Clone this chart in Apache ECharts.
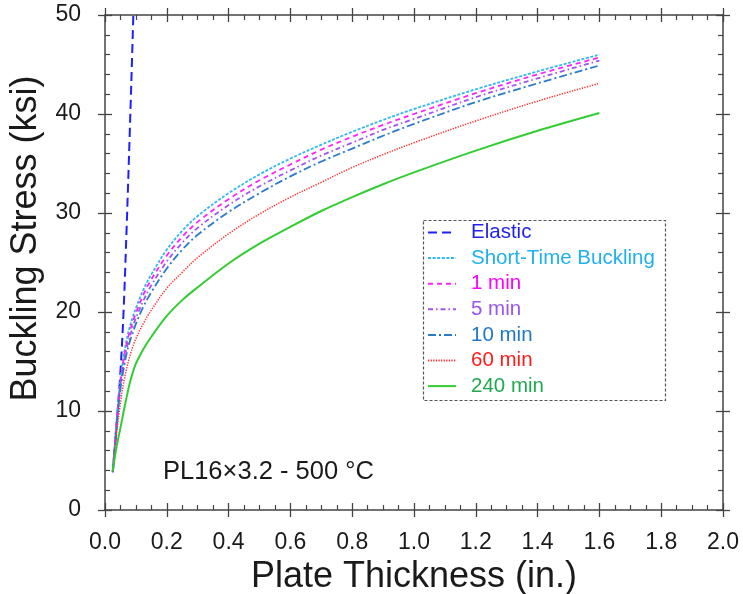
<!DOCTYPE html>
<html>
<head>
<meta charset="utf-8">
<script src="https://cdn.jsdelivr.net/npm/echarts@6/dist/echarts.min.js"></script>
<style>html,body{margin:0;padding:0;background:#fff}#c{width:743px;height:594px}</style>
</head>
<body>
<div id="c"></div>
<script>
// ---- data ----
var thickness = [0.025, 0.03, 0.04, 0.05, 0.06, 0.07, 0.08, 0.09, 0.1, 0.125, 0.15, 0.2, 0.25, 0.3, 0.4, 0.5, 0.6, 0.7, 0.8, 0.9, 1.0, 1.2, 1.4, 1.6];
var elasticX = [0.025, 0.03, 0.04, 0.05, 0.06, 0.07, 0.08, 0.09, 0.1];
var elasticY = [3.8, 5.4, 9.6, 14.0, 20.0, 28.5, 38.0, 48.2, 59.0];
var shortTime = [3.9, 6.0, 10.0, 13.2, 15.5, 17.2, 18.5, 19.5, 20.4, 22.3, 23.8, 26.3, 28.2, 29.7, 32.0, 33.9, 35.5, 36.9, 38.2, 39.4, 40.5, 42.5, 44.3, 46.0];
var min1 = [3.9, 5.9, 9.8, 12.9, 15.1, 16.8, 18.0, 19.0, 19.9, 21.8, 23.3, 25.7, 27.6, 29.1, 31.4, 33.3, 34.9, 36.4, 37.7, 38.9, 40.0, 42.1, 44.0, 45.7];
var min5 = [3.9, 5.8, 9.6, 12.6, 14.7, 16.3, 17.5, 18.5, 19.4, 21.2, 22.7, 25.1, 27.0, 28.5, 30.8, 32.7, 34.3, 35.8, 37.1, 38.4, 39.5, 41.7, 43.6, 45.4];
var min10 = [3.9, 5.7, 9.3, 12.2, 14.2, 15.8, 17.0, 17.9, 18.8, 20.6, 22.0, 24.4, 26.3, 27.8, 30.1, 32.0, 33.7, 35.2, 36.5, 37.8, 39.0, 41.2, 43.1, 44.9];
var min60 = [3.9, 5.4, 8.4, 10.8, 12.8, 14.3, 15.5, 16.5, 17.3, 18.9, 20.2, 22.4, 24.0, 25.5, 27.9, 29.9, 31.6, 33.1, 34.6, 35.9, 37.1, 39.3, 41.3, 43.1];
var min240 = [3.9, 5.0, 6.8, 8.3, 9.9, 11.4, 12.8, 13.9, 14.8, 16.3, 17.5, 19.6, 21.2, 22.5, 24.9, 26.9, 28.6, 30.2, 31.6, 32.9, 34.1, 36.3, 38.3, 40.1];
var seriesNames = ['Elastic', 'Short-Time Buckling', '1 min', '5 min', '10 min', '60 min', '240 min'];
var xTicks = [0, 0.2, 0.4, 0.6, 0.8, 1.0, 1.2, 1.4, 1.6, 1.8, 2.0];
var yTicks = [0, 10, 20, 30, 40, 50];
var annotation = 'PL16×3.2 - 500 °C';

function pairs(xs, ys) { return xs.map(function (x, i) { return [x, ys[i]]; }); }

var FONT = 'Liberation Sans, Arial, Helvetica, sans-serif';
var AX = '#444';
var lineColors = ['#1f1fff', '#33b8ee', '#ff22ff', '#a055f0', '#2a7cc8', '#ff3030', '#33cc33'];
var textColors = ['#1f1fee', '#1fb0ee', '#ff00ff', '#9955ee', '#1f78c4', '#ff1a1a', '#20a850'];
var dashes = [[9, 5], [3, 1.6], [5, 4], [5, 3, 1.5, 3], [8, 3, 2, 3], [1.3, 1.3], 'solid'];
var widths = [2, 1.8, 1.8, 1.8, 1.8, 1.5, 2];
var datasets = [pairs(elasticX, elasticY), pairs(thickness, shortTime), pairs(thickness, min1), pairs(thickness, min5), pairs(thickness, min10), pairs(thickness, min60), pairs(thickness, min240)];

function xAx(grid, pos, inside, main) {
  var lab = main && pos === 'bottom';
  return {
    gridIndex: grid, type: 'value', position: pos, min: 0, max: 2, interval: 0.2,
    axisLine: { show: main, onZero: false, lineStyle: { color: AX, width: 1.5 } },
    axisTick: { show: true, inside: inside, length: 7, lineStyle: { color: AX, width: 1.3 } },
    minorTick: { show: inside, splitNumber: 4, length: 5, lineStyle: { color: AX, width: 1.2 } },
    axisLabel: { show: lab, margin: 21, fontSize: 23, color: '#1a1a1a', fontFamily: FONT,
      formatter: function (v) { return xTicks.indexOf(Math.round(v * 10) / 10) >= 0 ? v.toFixed(1) : ''; } },
    splitLine: { show: false },
    name: lab ? 'Plate Thickness (in.)' : '',
    nameLocation: 'middle', nameGap: 47,
    nameTextStyle: { fontSize: 36, color: '#1a1a1a', fontFamily: FONT }
  };
}
function yAx(grid, pos, inside, main) {
  var lab = main && pos === 'left';
  return {
    gridIndex: grid, type: 'value', position: pos, min: 0, max: 50, interval: 10,
    axisLine: { show: main, onZero: false, lineStyle: { color: AX, width: 1.5 } },
    axisTick: { show: true, inside: inside, length: 7, lineStyle: { color: AX, width: 1.3 } },
    minorTick: { show: inside, splitNumber: 5, length: 5, lineStyle: { color: AX, width: 1.2 } },
    axisLabel: { show: lab, margin: 24, fontSize: 23, color: '#1a1a1a', fontFamily: FONT,
      formatter: function (v) { return yTicks.indexOf(v) >= 0 ? String(v) : ''; } },
    splitLine: { show: false },
    name: lab ? 'Buckling Stress (ksi)' : '',
    nameLocation: 'middle', nameGap: 55,
    nameTextStyle: { fontSize: 36, color: '#1a1a1a', fontFamily: FONT, padding: [0, 0, 0, 48] }
  };
}

var G = { left: 105, right: 20, top: 15, bottom: 84, containLabel: false, outerBoundsMode: 'none' };
var chart = echarts.init(document.getElementById('c'), null, { renderer: 'canvas' });
chart.setOption({
  backgroundColor: '#fff',
  animation: false,
  grid: [Object.assign({}, G), Object.assign({}, G)],
  xAxis: [xAx(0, 'bottom', true, true), xAx(0, 'top', true, true), xAx(1, 'bottom', false, false), xAx(1, 'top', false, false)],
  yAxis: [yAx(0, 'left', true, true), yAx(0, 'right', true, true), yAx(1, 'left', false, false), yAx(1, 'right', false, false)],
  legend: {
    orient: 'vertical', left: 427, top: 222, itemWidth: 28, itemHeight: 14, itemGap: 4.6,
    padding: 0,
    itemStyle: { color: 'rgba(0,0,0,0)', borderWidth: 0, opacity: 0 },
    data: seriesNames.map(function (n, i) {
      return { name: n, textStyle: { color: textColors[i] } };
    }),
    textStyle: { fontSize: 20.5, fontFamily: FONT, padding: [0, 0, 0, 10] }
  },
  graphic: [
    { type: 'rect', left: 421, top: 218, shape: { width: 242, height: 180 },
      style: { fill: 'none', stroke: '#555', lineWidth: 1.2, lineDash: [3, 2] }, z: 10 },
    { type: 'text', left: 163, top: 459,
      style: { text: annotation, font: '25.5px ' + FONT, fill: '#1a1a1a' } }
  ],
  series: seriesNames.map(function (n, i) {
    return {
      name: n, type: 'line', data: datasets[i], xAxisIndex: 0, yAxisIndex: 0,
      showSymbol: false, symbol: 'none', smooth: 0.35, clip: true,
      lineStyle: { color: lineColors[i], width: widths[i], type: dashes[i] },
      itemStyle: { color: lineColors[i] }
    };
  })
});
</script>
</body>
</html>
